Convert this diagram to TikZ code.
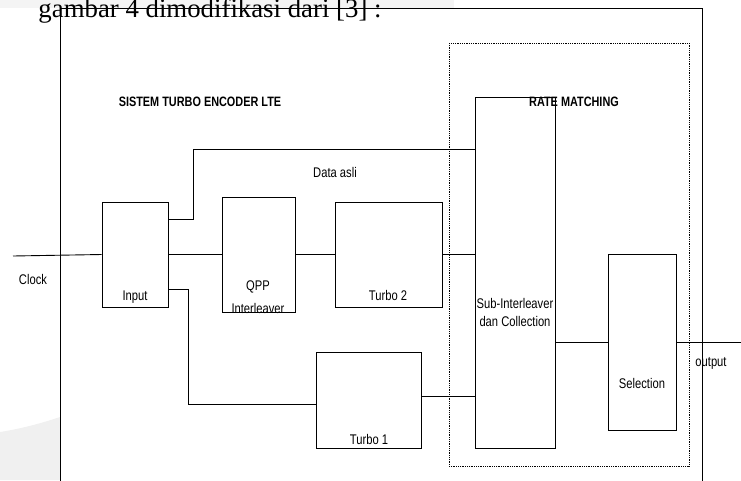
\documentclass[tikz,border=0pt]{standalone}
\usepackage{fontspec}
\setmainfont{Liberation Sans}[FakeStretch=0.8]
\newfontfamily\judulfont{Liberation Serif}
\usepackage{tikz}

\tikzset{
    blok/.style={draw, line width=0.9pt, inner sep=0pt},
    teks/.style={font=\fontsize{14}{16}\selectfont, inner sep=0pt},
    judul/.style={font=\fontsize{13.6}{16}\selectfont\bfseries, inner sep=0pt},
}

\begin{document}
\begin{tikzpicture}[x=1pt, y=-1pt, line width=0.9pt]
    \useasboundingbox (0,0) rectangle (741,480);

    % scan background
    \fill[gray!9] (0,0) rectangle (454,8);
    \fill[gray!12] (0,432) .. controls (25,428) and (45,422) .. (60,417) -- (60,480) -- (0,480) -- cycle;

    % caption line
    \node[anchor=base west, inner sep=0pt, font=\fontsize{26.8}{28}\judulfont] (cap) at (38,17) {gambar 4 dimodifikasi dari [3] :};

    % outer frame
    \draw (60,490) -- (60,8) -- (702,8) -- (702,490);
    \node[judul] (lte) at (200,102) {SISTEM TURBO ENCODER LTE};

    % rate matching region
    \draw[densely dotted, line width=0.8pt] (449,43) rectangle (689,466);

    % Blocks
    \node[blok, minimum width=66pt, minimum height=105pt] (input) at (135,254.5) {};
    \node[teks] (linput) at (135,297) {Input};
    \node[blok, minimum width=73pt, minimum height=115pt] (qpp) at (258.5,254.5) {};
    \node[teks] (lqpp) at (258,287) {QPP};
    \node[teks] (lqpp2) at (258,308) {Interleaver};
    \node[blok, minimum width=107pt, minimum height=105pt] (turbo2) at (388.5,254.5) {};
    \node[teks] (lturbo2) at (388,295) {Turbo 2};
    \node[blok, minimum width=105pt, minimum height=96pt] (turbo1) at (368.5,400) {};
    \node[teks] (lturbo1) at (369,439) {Turbo 1};
    \node[blok, minimum width=80pt, minimum height=351pt] (sub) at (515,272.5) {};
    \node[teks] (lsub) at (515,303) {Sub-Interleaver};
    \node[teks] (lsub2) at (515,321) {dan Collection};
    \node[blok, minimum width=68pt, minimum height=176pt] (sel) at (642,342) {};
    \node[teks] (lsel) at (642,383) {Selection};
    \node[judul] (rate) at (574,102) {RATE MATCHING};

    % Connectors
    \coordinate (clk) at (13,256);
    \coordinate (atas) at (193,149);
    \coordinate (bawah) at (188,404);
    \coordinate (keluar) at (741,342);
    \draw (clk) -- (input.west);
    \draw (input.east) -- (qpp.west);
    \draw (qpp.east) -- (turbo2.west);
    \draw (turbo2.east) -- (turbo2.east -| sub.west);
    \draw (input.east |- 0,219) -| (atas) -- (atas -| sub.west);
    \draw (input.east |- 0,289) -| (bawah) -- (bawah -| turbo1.west);
    \draw (turbo1.east |- 0,396) -- (sub.west |- 0,396);
    \draw (sel.west -| sub.east) -- (sel.west);
    \draw (sel.east) -- (keluar);

    % Labels
    \node[teks] (lclock) at (33,279) {Clock};
    \node[teks] (ldata) at (335,172) {Data asli};
    \node[teks] (lout) at (711,363) {output};
\end{tikzpicture}
\end{document}
